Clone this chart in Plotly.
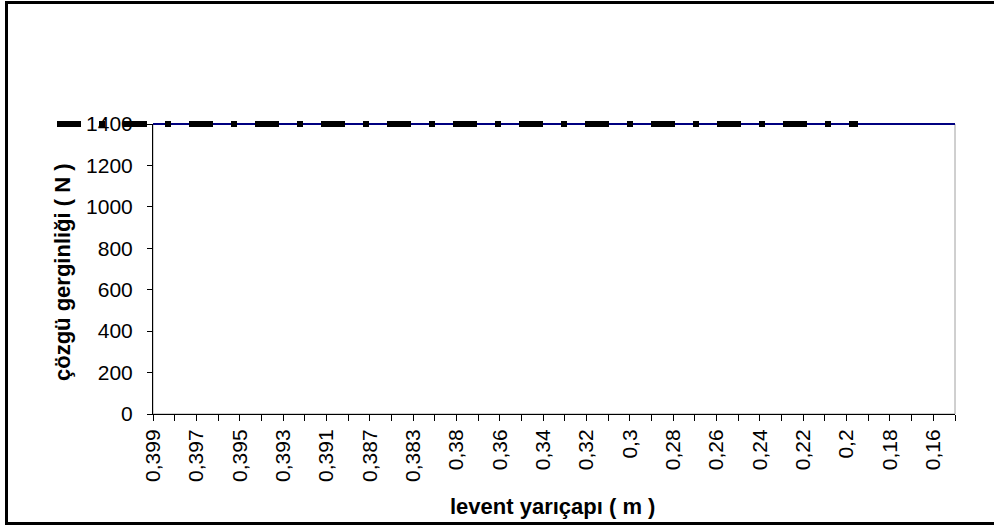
import plotly.graph_objects as go

# ---------------- data ----------------
categories = ["0,399", "0,398", "0,397", "0,396", "0,395", "0,394", "0,393", "0,392",
              "0,391", "0,389", "0,387", "0,385", "0,383", "0,381", "0,38", "0,37",
              "0,36", "0,35", "0,34", "0,33", "0,32", "0,31", "0,3", "0,29", "0,28",
              "0,27", "0,26", "0,25", "0,24", "0,23", "0,22", "0,21", "0,2", "0,19",
              "0,18", "0,17", "0,16", "0,15"]
tick_labels = ["0,399", "0,397", "0,395", "0,393", "0,391", "0,387", "0,383", "0,38",
               "0,36", "0,34", "0,32", "0,3", "0,28", "0,26", "0,24", "0,22", "0,2",
               "0,18", "0,16"]
tension_blue = [1400, 1400, 1400, 1400, 1400, 1400, 1400, 1400, 1400, 1400, 1400, 1400,
                1400, 1400, 1400, 1400, 1400, 1400, 1400, 1400, 1400, 1400, 1400, 1400,
                1400, 1400, 1400, 1400, 1400, 1400, 1400, 1400, 1400, 1400, 1400, 1400,
                1400, 1400]
tension_black = [1400, 1400, 1400, 1400, 1400, 1400, 1400, 1400, 1400, 1400, 1400, 1400,
                 1400, 1400, 1400, 1400, 1400, 1400, 1400, 1400, 1400, 1400, 1400, 1400,
                 1400, 1400, 1400, 1400, 1400, 1400, 1400, 1400, 1400, 1400, 1400, 1400,
                 1400, 1400]
y_ticks = [0, 200, 400, 600, 800, 1000, 1200, 1400]
y_max = 1400

x_title = "levent yarıçapı ( m )"
y_title = "çözgü gerginliği ( N )"

# ---------------- layout geometry (pixels) ----------------
W, H = 994, 527
PAPER_L, PAPER_R = 57, 955
PAPER_T, PAPER_B = 100, 414
AXIS_L = 153
PLOT_T = 124
BLACK_END = 858
PW = PAPER_R - PAPER_L
PH = PAPER_B - PAPER_T


def px_x(p):
    return (p - PAPER_L) / PW


def px_y(p):
    return (PAPER_B - p) / PH


FONT = "Liberation Sans, Arial, sans-serif"
TICK_SIZE = 21
TITLE_SIZE = 22
n = len(categories)
ticktext = [c if c in tick_labels else "" for c in categories]

fig = go.Figure()

# blue series (drawn on x / y2 so the top-edge line is not clipped)
fig.add_trace(go.Scatter(
    x=categories, y=tension_blue, xaxis="x", yaxis="y2", mode="lines",
    line=dict(color="#000080", width=2), showlegend=False, hoverinfo="skip"))

# black dash-dot series (shifted frame)
fig.add_trace(go.Scatter(
    x=categories, y=tension_black, xaxis="x2", yaxis="y2", mode="lines",
    line=dict(color="#000000", width=6, dash="24px,18px,6px,18px"),
    showlegend=False, hoverinfo="skip"))

# invisible helper trace to make the main axes exist
fig.add_trace(go.Scatter(
    x=categories, y=tension_blue, xaxis="x", yaxis="y", mode="lines",
    line=dict(color="rgba(0,0,0,0)", width=0), showlegend=False, hoverinfo="skip"))

x_dom = [(AXIS_L - PAPER_L) / PW, 1]
y_dom = [0, (PAPER_B - PLOT_T) / PH]
y2_top = y_max * (PAPER_B - PAPER_T) / (PAPER_B - PLOT_T)

border = dict(color="black", width=3)

fig.update_layout(
    width=W, height=H,
    margin=dict(l=PAPER_L, r=W - PAPER_R, t=PAPER_T, b=H - PAPER_B, pad=0),
    paper_bgcolor="white", plot_bgcolor="rgba(0,0,0,0)",
    font=dict(family=FONT, size=TICK_SIZE, color="black"),
    xaxis=dict(
        domain=x_dom, anchor="y", type="category",
        categoryorder="array", categoryarray=categories,
        range=[0, n - 1], tickmode="array", tickvals=categories, ticktext=ticktext,
        tickangle=-90, ticks="outside", ticklen=6, tickwidth=1, tickcolor="black",
        ticklabelstandoff=0,
        showline=True, linecolor="black", linewidth=1,
        showgrid=False, zeroline=False, tickfont=dict(size=TICK_SIZE, family=FONT),
    ),
    xaxis3=dict(
        overlaying="x", anchor="y", domain=x_dom, range=[0, n - 1],
        tickmode="array", tickvals=list(range(n)),
        ticks="inside", ticklen=6, tickwidth=1, tickcolor="black",
        showticklabels=False, showline=False, showgrid=False, zeroline=False,
    ),
    yaxis=dict(
        domain=y_dom, anchor="x", range=[0, y_max],
        tickmode="array", tickvals=y_ticks, ticktext=[str(v) for v in y_ticks],
        ticks="outside", ticklen=5, tickwidth=1, tickcolor="black",
        ticklabelstandoff=10,
        showline=True, linecolor="black", linewidth=1,
        showgrid=False, zeroline=False, tickfont=dict(size=TICK_SIZE, family=FONT),
    ),
    yaxis3=dict(
        overlaying="y", anchor="x", side="left", range=[0, y_max],
        tickmode="array", tickvals=y_ticks,
        ticks="inside", ticklen=5, tickwidth=1, tickcolor="black",
        showticklabels=False, showline=False, showgrid=False, zeroline=False,
    ),
    xaxis2=dict(
        domain=[0, (BLACK_END - PAPER_L) / PW], anchor="y2", type="category",
        categoryorder="array", categoryarray=categories,
        range=[0, n - 1], visible=False,
    ),
    yaxis2=dict(domain=[0, 1], anchor="x2", range=[0, y2_top], visible=False),
    shapes=[
        # plot-area border (gray)
        dict(type="rect", xref="paper", yref="paper",
             x0=x_dom[0], x1=1, y0=0, y1=y_dom[1],
             line=dict(color="#a0a0a0", width=1), layer="below"),
        # chart-area outer border: left, top, bottom
        dict(type="line", xref="paper", yref="paper",
             x0=px_x(6.5), x1=px_x(6.5), y0=px_y(523.5), y1=px_y(2.5),
             line=border, layer="below"),
        dict(type="line", xref="paper", yref="paper",
             x0=px_x(5), x1=px_x(W), y0=px_y(2.5), y1=px_y(2.5),
             line=border, layer="below"),
        dict(type="line", xref="paper", yref="paper",
             x0=px_x(5), x1=px_x(W), y0=px_y(523.5), y1=px_y(523.5),
             line=border, layer="below"),
    ],
    annotations=[
        dict(text="<b>" + y_title + "</b>", xref="paper", yref="paper",
             x=px_x(62), y=px_y(272), textangle=-90, showarrow=False,
             font=dict(size=TITLE_SIZE, family=FONT, color="black"),
             xanchor="center", yanchor="middle"),
        dict(text="<b>" + x_title + "</b>", xref="paper", yref="paper",
             x=px_x(552), y=px_y(506), showarrow=False,
             font=dict(size=TITLE_SIZE, family=FONT, color="black"),
             xanchor="center", yanchor="middle"),
    ],
)

fig.write_html(
    "out.html", config={"displayModeBar": False},
    post_script=("document.body.style.margin='0';"
                 "document.body.style.overflow='hidden';"
                 "document.documentElement.style.overflow='hidden';"))
